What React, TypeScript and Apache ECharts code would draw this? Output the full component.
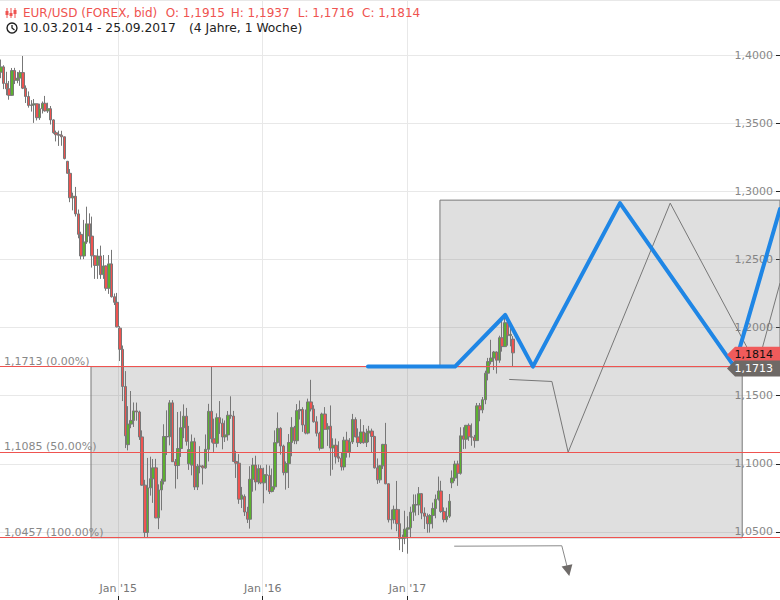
import React, { useEffect, useRef } from 'react';
import * as echarts from 'echarts';

// ---- data ----
const FIRST_WEEK = '2014-03-10';
// weekly candles [open, close, low, high]
const ohlc2014: number[][] = [
  [1.3874, 1.3913, 1.3830, 1.3967], [1.3913, 1.3792, 1.3750, 1.3925], [1.3792, 1.3752, 1.3705, 1.3877],
  [1.3752, 1.3704, 1.3672, 1.3810], [1.3704, 1.3886, 1.3700, 1.3905], [1.3886, 1.3813, 1.3787, 1.3906],
  [1.3813, 1.3831, 1.3793, 1.3876], [1.3831, 1.3871, 1.3774, 1.3888], [1.3871, 1.3757, 1.3750, 1.3993],
  [1.3757, 1.3696, 1.3648, 1.3777], [1.3696, 1.3630, 1.3614, 1.3733], [1.3630, 1.3634, 1.3585, 1.3669],
  [1.3634, 1.3642, 1.3502, 1.3677], [1.3642, 1.3540, 1.3520, 1.3643], [1.3540, 1.3606, 1.3524, 1.3643],
  [1.3606, 1.3646, 1.3571, 1.3659], [1.3646, 1.3590, 1.3585, 1.3700], [1.3590, 1.3606, 1.3575, 1.3650],
  [1.3606, 1.3524, 1.3490, 1.3626], [1.3524, 1.3430, 1.3422, 1.3529], [1.3430, 1.3415, 1.3366, 1.3445],
  [1.3415, 1.3412, 1.3333, 1.3445], [1.3412, 1.3400, 1.3334, 1.3444], [1.3400, 1.3240, 1.3234, 1.3398],
  [1.3220, 1.3132, 1.3130, 1.3223], [1.3132, 1.2952, 1.2920, 1.3163], [1.2952, 1.2963, 1.2860, 1.2990],
  [1.2963, 1.2834, 1.2815, 1.3032], [1.2834, 1.2684, 1.2655, 1.2866], [1.2684, 1.2525, 1.2500, 1.2703],
  [1.2525, 1.2628, 1.2502, 1.2790], [1.2628, 1.2761, 1.2614, 1.2887], [1.2761, 1.2671, 1.2617, 1.2838],
  [1.2671, 1.2526, 1.2440, 1.2814], [1.2526, 1.2456, 1.2357, 1.2530], [1.2456, 1.2525, 1.2357, 1.2577],
  [1.2525, 1.2388, 1.2357, 1.2601], [1.2388, 1.2452, 1.2357, 1.2532], [1.2452, 1.2288, 1.2270, 1.2456],
  [1.2288, 1.2467, 1.2247, 1.2532], [1.2467, 1.2226, 1.2220, 1.2570], [1.2226, 1.2185, 1.2165, 1.2250],
  [1.2185, 1.2005, 1.2001, 1.2254],
];
const ohlc2015: number[][] = [
  [1.1995, 1.1840, 1.1754, 1.2010], [1.1840, 1.1567, 1.1460, 1.1868], [1.1567, 1.1205, 1.1115, 1.1680],
  [1.1140, 1.1291, 1.1098, 1.1423], [1.1291, 1.1318, 1.1261, 1.1534], [1.1318, 1.1388, 1.1270, 1.1450],
  [1.1388, 1.1380, 1.1316, 1.1449], [1.1380, 1.1197, 1.1175, 1.1390], [1.1197, 1.0843, 1.0838, 1.1245],
  [1.0843, 1.0496, 1.0462, 1.0882], [1.0496, 1.0823, 1.0457, 1.1043], [1.0823, 1.0890, 1.0766, 1.1052],
  [1.0890, 1.0970, 1.0713, 1.1035], [1.0970, 1.0603, 1.0600, 1.1036], [1.0603, 1.0808, 1.0520, 1.0849],
  [1.0808, 1.0872, 1.0658, 1.0890], [1.0872, 1.1200, 1.0848, 1.1290], [1.1200, 1.1198, 1.1064, 1.1392],
  [1.1198, 1.1447, 1.1135, 1.1467], [1.1447, 1.1015, 1.1013, 1.1467], [1.1015, 1.0987, 1.0818, 1.1035],
  [1.0987, 1.1112, 1.0887, 1.1380], [1.1112, 1.1264, 1.1050, 1.1385], [1.1264, 1.1349, 1.1188, 1.1436],
  [1.1349, 1.1164, 1.1133, 1.1410], [1.1000, 1.1104, 1.0955, 1.1278], [1.0990, 1.1161, 1.0915, 1.1215],
  [1.1161, 1.0829, 1.0808, 1.1191], [1.0829, 1.0982, 1.0807, 1.0999], [1.0982, 1.0983, 1.0930, 1.1129],
  [1.0983, 1.0970, 1.0848, 1.0990], [1.0970, 1.1106, 1.0963, 1.1215], [1.1106, 1.1385, 1.1017, 1.1440],
  [1.1385, 1.1183, 1.1155, 1.1713], [1.1183, 1.1150, 1.1087, 1.1331], [1.1150, 1.1338, 1.1120, 1.1370],
  [1.1338, 1.1298, 1.1219, 1.1460], [1.1298, 1.1197, 1.1106, 1.1332], [1.1197, 1.1212, 1.1160, 1.1318],
  [1.1212, 1.1356, 1.1170, 1.1387], [1.1356, 1.1350, 1.1330, 1.1495], [1.1350, 1.1017, 1.1016, 1.1388],
  [1.1017, 1.1004, 1.0896, 1.1095], [1.1004, 1.0740, 1.0706, 1.1071], [1.0740, 1.0771, 1.0675, 1.0830],
  [1.0760, 1.0646, 1.0617, 1.0775], [1.0646, 1.0593, 1.0565, 1.0684], [1.0593, 1.0886, 1.0524, 1.0982],
  [1.0886, 1.0990, 1.0795, 1.1043], [1.0990, 1.0866, 1.0804, 1.1059], [1.0866, 1.0964, 1.0850, 1.0994],
  [1.0964, 1.0860, 1.0850, 1.0989],
];
const ohlc2016: number[][] = [
  [1.0860, 1.0920, 1.0710, 1.0971], [1.0920, 1.0915, 1.0805, 1.0993], [1.0915, 1.0796, 1.0778, 1.0987],
  [1.0796, 1.0831, 1.0790, 1.0965], [1.0831, 1.1155, 1.0810, 1.1245], [1.1155, 1.1260, 1.1150, 1.1377],
  [1.1260, 1.1130, 1.1067, 1.1268], [1.1130, 1.0935, 1.0915, 1.1140], [1.0935, 1.1001, 1.0810, 1.1017],
  [1.1001, 1.1156, 1.0822, 1.1218], [1.1156, 1.1267, 1.1055, 1.1342], [1.1267, 1.1169, 1.1144, 1.1278],
  [1.1169, 1.1390, 1.1144, 1.1438], [1.1390, 1.1398, 1.1325, 1.1464], [1.1398, 1.1285, 1.1234, 1.1415],
  [1.1285, 1.1225, 1.1216, 1.1398], [1.1225, 1.1454, 1.1216, 1.1478], [1.1454, 1.1402, 1.1384, 1.1616],
  [1.1402, 1.1308, 1.1302, 1.1430], [1.1308, 1.1224, 1.1201, 1.1349], [1.1224, 1.1114, 1.1097, 1.1235],
  [1.1114, 1.1365, 1.1108, 1.1375], [1.1365, 1.1253, 1.1252, 1.1416], [1.1253, 1.1276, 1.1131, 1.1298],
  [1.1276, 1.1116, 1.0912, 1.1428], [1.1116, 1.1136, 1.0956, 1.1187], [1.1136, 1.1051, 1.1001, 1.1185],
  [1.1051, 1.1041, 1.1012, 1.1165], [1.1041, 1.0977, 1.0950, 1.1083], [1.0977, 1.1173, 1.0952, 1.1198],
  [1.1173, 1.1087, 1.1045, 1.1235], [1.1087, 1.1160, 1.1046, 1.1188], [1.1160, 1.1325, 1.1145, 1.1366],
  [1.1325, 1.1197, 1.1195, 1.1341], [1.1197, 1.1155, 1.1123, 1.1260], [1.1155, 1.1233, 1.1145, 1.1327],
  [1.1233, 1.1155, 1.1148, 1.1284], [1.1155, 1.1226, 1.1123, 1.1257], [1.1226, 1.1240, 1.1158, 1.1278],
  [1.1240, 1.1200, 1.1085, 1.1258], [1.1200, 1.0970, 1.0965, 1.1205], [1.0970, 1.0882, 1.0852, 1.1039],
  [1.0882, 1.0985, 1.0860, 1.0990], [1.0985, 1.1142, 1.0962, 1.1146], [1.1142, 1.0853, 1.0850, 1.1300],
  [1.0853, 1.0589, 1.0569, 1.0855], [1.0589, 1.0590, 1.0518, 1.0664], [1.0590, 1.0665, 1.0561, 1.0693],
  [1.0665, 1.0560, 1.0505, 1.0874], [1.0560, 1.0450, 1.0366, 1.0667], [1.0450, 1.0454, 1.0352, 1.0480],
  [1.0454, 1.0520, 1.0410, 1.0655],
];
const ohlc2017: number[][] = [
  [1.0520, 1.0530, 1.0340, 1.0615], [1.0530, 1.0645, 1.0455, 1.0685], [1.0645, 1.0700, 1.0580, 1.0775],
  [1.0700, 1.0698, 1.0619, 1.0775], [1.0698, 1.0780, 1.0623, 1.0829], [1.0780, 1.0638, 1.0593, 1.0785],
  [1.0638, 1.0615, 1.0521, 1.0680], [1.0615, 1.0560, 1.0494, 1.0635], [1.0560, 1.0620, 1.0495, 1.0630],
  [1.0620, 1.0672, 1.0525, 1.0715], [1.0672, 1.0740, 1.0600, 1.0774], [1.0740, 1.0800, 1.0730, 1.0906],
  [1.0800, 1.0650, 1.0640, 1.0875], [1.0650, 1.0590, 1.0570, 1.0680], [1.0590, 1.0615, 1.0570, 1.0678],
  [1.0615, 1.0725, 1.0602, 1.0778], [1.0860, 1.0895, 1.0821, 1.0951], [1.0895, 1.0998, 1.0872, 1.1022],
  [1.0998, 1.0930, 1.0838, 1.1023], [1.0930, 1.1205, 1.0920, 1.1268], [1.1205, 1.1180, 1.1108, 1.1268],
  [1.1180, 1.1282, 1.1110, 1.1285], [1.1282, 1.1198, 1.1168, 1.1296], [1.1198, 1.1195, 1.1132, 1.1296],
  [1.1195, 1.1170, 1.1118, 1.1212], [1.1170, 1.1425, 1.1170, 1.1446], [1.1425, 1.1396, 1.1312, 1.1446],
  [1.1396, 1.1470, 1.1371, 1.1490], [1.1470, 1.1665, 1.1437, 1.1683], [1.1665, 1.1750, 1.1612, 1.1777],
  [1.1750, 1.1776, 1.1729, 1.1910], [1.1776, 1.1820, 1.1688, 1.1828], [1.1820, 1.1760, 1.1662, 1.1825],
  [1.1760, 1.1925, 1.1741, 1.1940], [1.1925, 1.1860, 1.1823, 1.2070], [1.1860, 1.2035, 1.1857, 1.2092],
  [1.2035, 1.1940, 1.1867, 1.2059], [1.1940, 1.1950, 1.1862, 1.2034], [1.1915, 1.1814, 1.1716, 1.1937],
];

const X_MIN = '2014-03-08T00:00:00Z';
const X_MAX = '2019-07-31T12:00:00Z';
const Y_MIN = 1.0;
const Y_MAX = 1.4404;
const Y_INTERVAL = 0.05;
const yearTicks = ['2015-01-01', '2016-01-01', '2017-01-01'];

const fibLevels = [1.1713, 1.1085, 1.0457];
const fibLabels = ['1,1713 (0.00%)', '1,1085 (50.00%)', '1,0457 (100.00%)'];
const fibBox: [string, number][] = [['2014-10-24', 1.1713], ['2019-04-27', 1.0457]];
const targetBox: [string, number][] = [['2017-03-24', 1.2935], ['2019-10-30', 1.1713]];

const bluePath: [string, number][] = [
  ['2016-09-23', 1.1713], ['2017-05-01', 1.1713], ['2017-09-05', 1.2092], ['2017-11-14', 1.1713],
  ['2018-06-22', 1.2913], ['2019-04-07', 1.1713], [X_MAX, 1.2869],
];
const greyPath: [string, number][] = [
  ['2017-09-15', 1.1619], ['2018-01-01', 1.1604], ['2018-02-11', 1.1085], ['2018-10-27', 1.2913],
  ['2019-06-04', 1.1713], [X_MAX, 1.2326],
];
const arrowPath: [string, number][] = [['2017-04-29', 1.0395], ['2018-01-26', 1.0398], ['2018-02-11', 1.0215]];

const lastClose = 1.1814;
const fibTop = 1.1713;

const titleParts = ['EUR/USD (FOREX, bid)', 'O: 1,1915', 'H: 1,1937', 'L: 1,1716', 'C: 1,1814'];
const titleX = [23, 165.7, 230.7, 297.7, 362];
const rangeParts = ['10.03.2014 - 25.09.2017', '(4 Jahre, 1 Woche)'];
const rangeX = [22.7, 189];

const RED = '#ef5350';
const FONT = '"DejaVu Sans", sans-serif';

const t = (s: string) => Date.parse(s.length === 10 ? s + 'T00:00:00Z' : s);
const fmt = (v: number) => v.toFixed(4).replace('.', ',');

export default function App() {
  const ref = useRef<HTMLDivElement>(null);
  useEffect(() => {
    if (!ref.current) return;
    const chart = echarts.init(ref.current, undefined, { renderer: 'svg' });
    const start = t(FIRST_WEEK);
    const week = 7 * 24 * 3600 * 1000;
    const all = [...ohlc2014, ...ohlc2015, ...ohlc2016, ...ohlc2017];
    const candles = all.map((r, i) => [start + i * week, r[0], r[1], r[2], r[3]]);
    const yearVals = yearTicks.map(t);

    const option: any = {
      animation: false,
      textStyle: { fontFamily: FONT },
      grid: { left: 0, right: 0, top: 0, bottom: 0, containLabel: false },
      xAxis: {
        type: 'value',
        min: t(X_MIN),
        max: t(X_MAX),
        axisLine: { show: false },
        axisTick: { show: true, inside: true, length: 4, lineStyle: { color: '#222' }, customValues: yearVals },
        axisLabel: {
          inside: true, margin: 6, color: '#777', fontSize: 11, fontFamily: FONT,
          customValues: yearVals,
          formatter: (v: number) => "Jan '" + String(new Date(v).getUTCFullYear()).slice(2),
        },
        splitLine: { show: true, lineStyle: { color: '#e8e8e8', width: 1 } },
      },
      yAxis: {
        type: 'value', position: 'right', min: Y_MIN, max: Y_MAX, interval: Y_INTERVAL,
        axisLine: { show: false },
        axisTick: { show: true, inside: true, length: 4, lineStyle: { color: '#222' } },
        axisLabel: {
          inside: true, margin: 7, color: '#888', fontSize: 11, fontFamily: FONT,
          showMinLabel: false, showMaxLabel: false,
          formatter: (v: number) => (v < 1.01 || v > 1.43 ? '' : fmt(v)),
        },
        splitLine: { show: true, lineStyle: { color: '#e8e8e8', width: 1 } },
      },
      series: [
        {
          type: 'candlestick',
          name: 'EUR/USD',
          data: candles,
          barWidth: 3,
          z: 3,
          silent: true,
          itemStyle: { color: '#5cb030', color0: RED, borderColor: '#777', borderColor0: '#777', borderWidth: 1 },
          markArea: {
            silent: true,
            itemStyle: { color: 'rgba(120,120,120,0.24)', borderColor: '#777', borderWidth: 1 },
            data: [
              [{ coord: [t(fibBox[0][0]), fibBox[0][1]] }, { coord: [t(fibBox[1][0]), fibBox[1][1]] }],
              [{ coord: [t(targetBox[0][0]), targetBox[0][1]] }, { coord: [t(targetBox[1][0]), targetBox[1][1]] }],
            ],
          },
          markLine: {
            silent: true,
            precision: 4,
            symbol: ['none', 'none'],
            lineStyle: { color: RED, width: 1, type: 'solid' },
            label: {
              show: true, position: 'insideStartTop', formatter: '{b}', color: '#888', fontSize: 11,
              fontFamily: FONT, distance: 0, padding: [0, 0, 0, 4],
            },
            data: fibLevels.map((v, i) => ({ yAxis: v, name: fibLabels[i] })),
          },
        },
        {
          type: 'line', silent: true, z: 4,
          data: greyPath.map(([d, v]) => [t(d), v]),
          symbol: 'none',
          lineStyle: { color: '#777', width: 1 },
        },
        {
          type: 'line', silent: true, z: 4,
          data: arrowPath.map(([d, v], i) => i < arrowPath.length - 1
            ? { value: [t(d), v], symbol: 'none' }
            : { value: [t(d), v], symbol: 'triangle', symbolSize: [11, 11], symbolRotate: 192 }),
          symbol: 'triangle',
          showSymbol: true,
          itemStyle: { color: '#6f6b69' },
          lineStyle: { color: '#8a8a8a', width: 1 },
        },
        {
          type: 'line', silent: true, z: 6,
          data: bluePath.map(([d, v]) => [t(d), v]),
          symbol: 'none',
          lineStyle: { color: '#1f86e5', width: 4, cap: 'round', join: 'round' },
        },
      ],
    };
    chart.setOption(option);

    const yClose = chart.convertToPixel({ yAxisIndex: 0 }, lastClose) as number;
    const yFib = chart.convertToPixel({ yAxisIndex: 0 }, fibTop) as number;
    const tag = (y: number, fill: string, textColor: string, label: string) => {
      const c = y + 2;
      return {
        type: 'group', z: 100,
        children: [
          { type: 'polygon', z: 100, shape: { points: [[727, c], [735, c - 8], [780, c - 8], [780, c + 8], [735, c + 8]] }, style: { fill } },
          { type: 'text', z: 101, x: 773, y: c, style: { text: label, fill: textColor, font: '11px ' + FONT, textAlign: 'right', textVerticalAlign: 'middle' } },
        ],
      };
    };

    const graphic: any[] = [
      { type: 'line', z: 100, shape: { x1: 7, y1: 8, x2: 7, y2: 18 }, style: { stroke: RED, lineWidth: 1 } },
      { type: 'line', z: 100, shape: { x1: 11, y1: 8, x2: 11, y2: 18 }, style: { stroke: RED, lineWidth: 1 } },
      { type: 'line', z: 100, shape: { x1: 15, y1: 8, x2: 15, y2: 18 }, style: { stroke: RED, lineWidth: 1 } },
      { type: 'rect', z: 100, shape: { x: 5.5, y: 11, width: 3, height: 4 }, style: { fill: RED } },
      { type: 'rect', z: 100, shape: { x: 9.5, y: 13, width: 3, height: 3 }, style: { fill: RED } },
      { type: 'rect', z: 100, shape: { x: 13.5, y: 10, width: 3, height: 4 }, style: { fill: RED } },
      { type: 'circle', z: 100, shape: { cx: 12, cy: 28, r: 5 }, style: { fill: 'none', stroke: '#222', lineWidth: 1.4 } },
      { type: 'polyline', z: 100, shape: { points: [[12, 25], [12, 28], [14.5, 30]] }, style: { fill: 'none', stroke: '#222', lineWidth: 1.3 } },
      ...titleParts.map((s, i) => ({
        type: 'text', z: 100, x: titleX[i], y: 13,
        style: { text: s, fill: RED, font: '12px ' + FONT, textVerticalAlign: 'middle' },
      })),
      ...rangeParts.map((s, i) => ({
        type: 'text', z: 100, x: rangeX[i], y: 28,
        style: { text: s, fill: '#222', font: '12.3px ' + FONT, textVerticalAlign: 'middle' },
      })),
      tag(yClose, '#f05b5b', '#111', fmt(lastClose)),
      tag(yFib, '#6e6966', '#fff', fmt(fibTop)),
    ];
    chart.setOption({ graphic });

    return () => chart.dispose();
  }, []);
  return <div ref={ref} style={{ position: 'absolute', left: 0, top: 0, width: 780, height: 600 }} />;
}
